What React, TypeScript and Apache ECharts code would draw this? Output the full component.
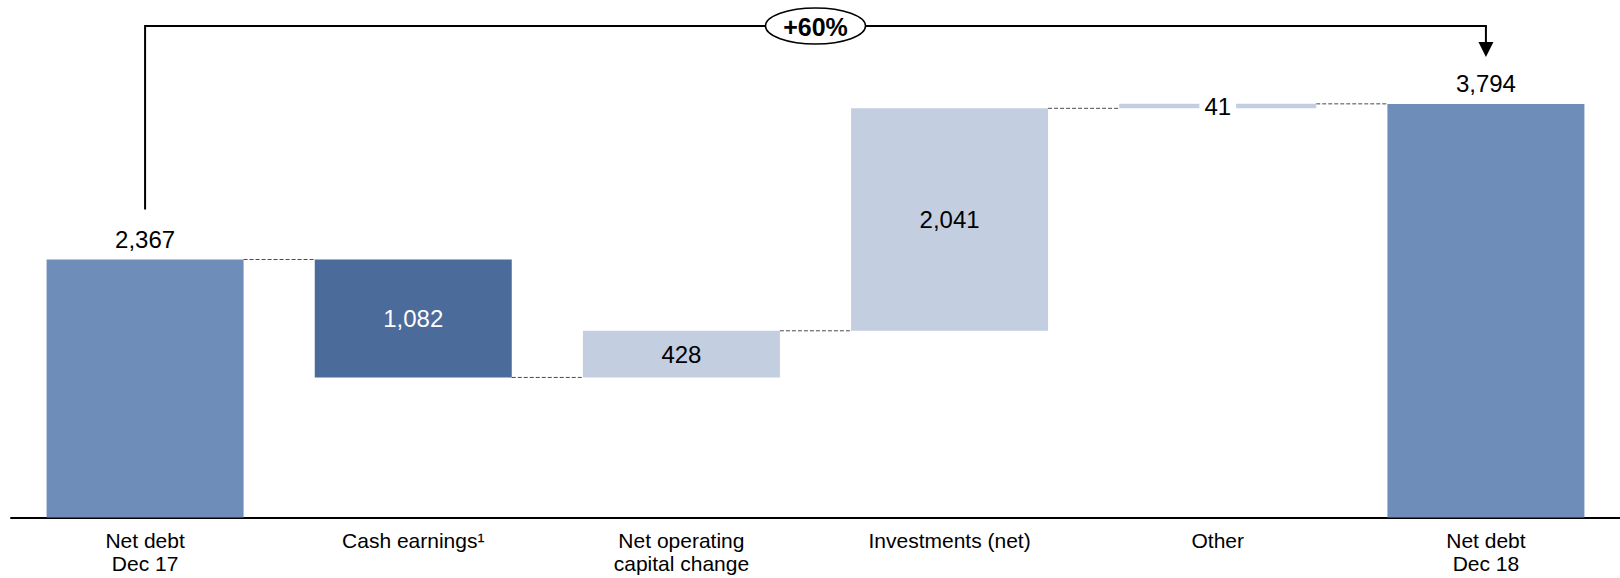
import React, { useEffect, useRef } from "react";
import * as echarts from "echarts";

const categories = [
  "Net debt\nDec 17",
  "Cash earnings¹",
  "Net operating\ncapital change",
  "Investments (net)",
  "Other",
  "Net debt\nDec 18",
];
const amounts = [2367, 1082, 428, 2041, 41, 3794];
const kinds = ["total", "decrease", "increase", "increase", "increase", "total"];
const barColors = ["#6E8DB9", "#4B6B9A", "#C3CEE1", "#C3CEE1", "#C3CEE1", "#6E8DB9"];
const labelColors = ["#000000", "#FFFFFF", "#000000", "#000000", "#000000", "#000000"];
const yMax = 4500;

const FONT = "'Liberation Sans', Arial, Helvetica, sans-serif";
const BAR_W = 197;

function buildWaterfall() {
  const bases: number[] = [];
  const levels: number[] = [];
  let running = 0;
  amounts.forEach((a, i) => {
    const k = kinds[i];
    if (k === "total") {
      bases.push(0);
      running = a;
    } else if (k === "decrease") {
      bases.push(running - a);
      running = running - a;
    } else {
      bases.push(running);
      running = running + a;
    }
    levels.push(running);
  });
  return { bases, levels };
}

export default function App() {
  const ref = useRef<HTMLDivElement>(null);
  useEffect(() => {
    if (!ref.current) return;
    const chart = echarts.init(ref.current, undefined, { renderer: "svg" });
    const { bases, levels } = buildWaterfall();
    const pct = Math.round((amounts[5] / amounts[0] - 1) * 100);
    const pctText = (pct >= 0 ? "+" : "") + pct + "%";

    const valueData = amounts.map((a, i) => ({
      value: a,
      itemStyle: { color: barColors[i] },
      label: {
        show: true,
        position: kinds[i] === "total" ? "top" : "inside",
        distance: 8,
        color: labelColors[i],
        fontSize: 24,
        fontFamily: FONT,
        formatter: () => a.toLocaleString("en-US"),
        ...(i === 4 ? { backgroundColor: "#FFFFFF", padding: [1, 5] } : {}),
      },
    }));

    const connectorData = levels.slice(0, levels.length - 1).map((v, i) => [i, v]);

    chart.setOption({
      animation: false,
      grid: { left: 11, width: 1618, top: 27, bottom: 60.5, containLabel: false },
      xAxis: {
        type: "category",
        data: categories,
        axisTick: { show: false },
        axisLine: { show: true, lineStyle: { color: "#000000", width: 2 } },
        axisLabel: {
          color: "#000000",
          fontSize: 21,
          fontFamily: FONT,
          lineHeight: 23,
          margin: 11,
          interval: 0,
        },
      },
      yAxis: {
        type: "value",
        min: 0,
        max: yMax,
        show: false,
        splitLine: { show: false },
      },
      series: [
        {
          type: "bar",
          stack: "wf",
          barWidth: BAR_W,
          data: bases,
          itemStyle: { color: "transparent" },
          label: { show: false },
          emphasis: { disabled: true },
          silent: true,
        },
        {
          type: "bar",
          stack: "wf",
          barWidth: BAR_W,
          data: valueData,
          emphasis: { disabled: true },
        },
        {
          type: "custom",
          data: connectorData,
          encode: { x: 0, y: 1 },
          z: 3,
          renderItem: (_params: any, api: any) => {
            const i = api.value(0);
            const v = api.value(1);
            const a = api.coord([i, v]);
            const b = api.coord([i + 1, v]);
            const half = BAR_W / 2;
            return {
              type: "line",
              shape: { x1: a[0] + half, y1: a[1], x2: b[0] - half, y2: b[1] },
              style: { stroke: "#4A4A4A", lineWidth: 1, lineDash: [4, 2] },
            };
          },
        },
        {
          type: "custom",
          data: [[0, amounts[0], 5, amounts[5]]],
          encode: { x: 0, y: 1 },
          z: 5,
          renderItem: (_params: any, api: any) => {
            const p0 = api.coord([api.value(0), api.value(1)]);
            const p1 = api.coord([api.value(2), api.value(3)]);
            const topY = 26;
            const mid = (p0[0] + p1[0]) / 2;
            const arrowBase = p1[1] - 62;
            const arrowTip = p1[1] - 47;
            return {
              type: "group",
              children: [
                {
                  type: "polyline",
                  shape: {
                    points: [
                      [p0[0], p0[1] - 50],
                      [p0[0], topY],
                      [p1[0], topY],
                      [p1[0], arrowBase + 1],
                    ],
                  },
                  style: { stroke: "#000000", lineWidth: 2, fill: "none" },
                },
                {
                  type: "polygon",
                  shape: {
                    points: [
                      [p1[0] - 7.5, arrowBase],
                      [p1[0] + 7.5, arrowBase],
                      [p1[0], arrowTip],
                    ],
                  },
                  style: { fill: "#000000" },
                },
                {
                  type: "ellipse",
                  shape: { cx: mid, cy: topY, rx: 50, ry: 18 },
                  style: { fill: "#FFFFFF", stroke: "#000000", lineWidth: 1.5 },
                },
                {
                  type: "text",
                  style: {
                    text: pctText,
                    x: mid,
                    y: topY + 1,
                    align: "center",
                    verticalAlign: "middle",
                    fill: "#000000",
                    fontSize: 25,
                    fontWeight: "bold",
                    fontFamily: FONT,
                  },
                },
              ],
            };
          },
        },
      ],
    });
    return () => chart.dispose();
  }, []);

  return (
    <div
      ref={ref}
      style={{ position: "fixed", left: 0, top: 0, width: 1620, height: 578, background: "#FFFFFF" }}
    />
  );
}
